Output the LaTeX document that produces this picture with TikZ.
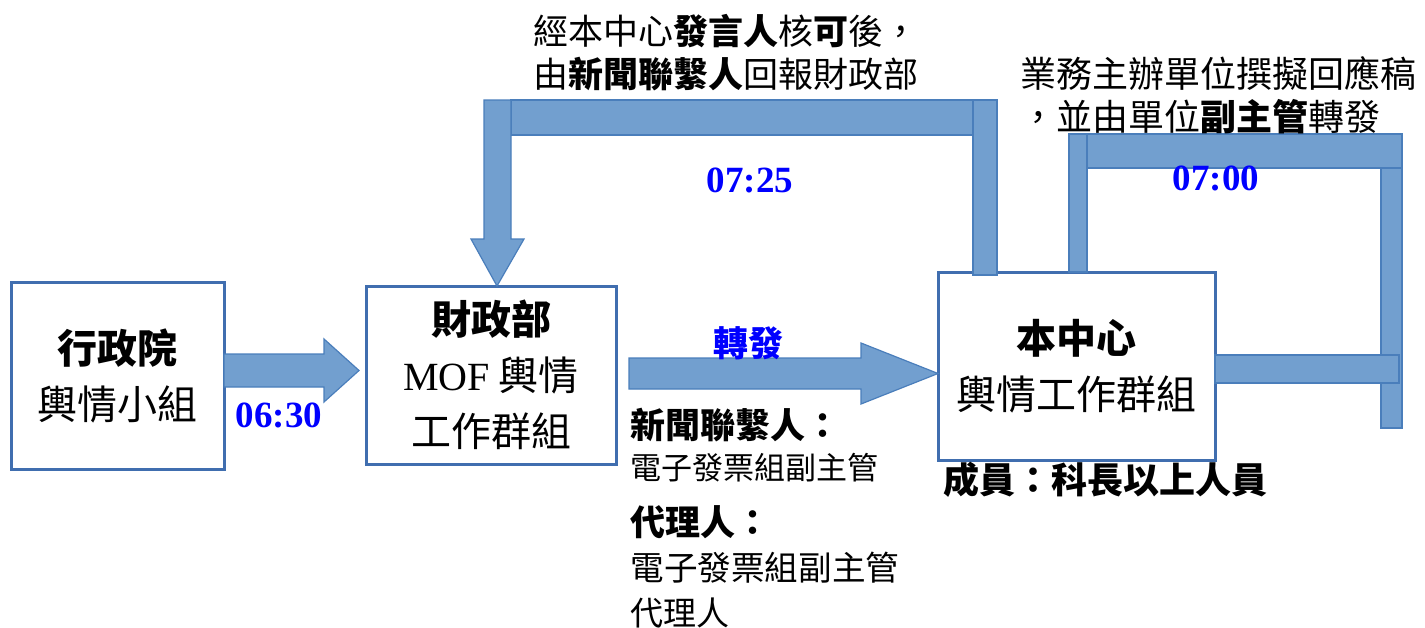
\documentclass[tikz,border=0pt]{standalone}
\usepackage{fontspec}
\setmainfont{Liberation Serif}
\newfontfamily\cjk{Noto Sans CJK TC}
\definecolor{arrowfill}{RGB}{114,159,207}
\definecolor{arrowline}{RGB}{74,126,187}
\definecolor{boxline}{RGB}{64,110,175}
\tikzset{
  unitbox/.style={draw=boxline, line width=1.5pt, fill=white, align=center,
    inner sep=0pt, font=\cjk\fontsize{20}{28}\selectfont},
  blockarrow/.style={fill=arrowfill, draw=arrowline, line width=0.6pt},
  timelabel/.style={text=blue, inner sep=0pt, font=\bfseries\fontsize{18.5}{20}\selectfont},
  note/.style={align=left, anchor=west, inner sep=0pt},
}
\begin{document}
\begin{tikzpicture}[x=0.5pt,y=-0.5pt]
    \useasboundingbox (0,0) rectangle (1425,627);

    % the three working groups
    \node[unitbox, minimum width=106.5pt, minimum height=93.5pt] (gov) at (117.5,375.5) {\textbf{行政院}\\輿情小組};
    \node[unitbox, minimum width=125pt, minimum height=89pt] (mof) at (491,375) {\textbf{財政部}\\{\rmfamily MOF} 輿情\\工作群組};
    \node[unitbox, minimum width=138.5pt, minimum height=94pt] (ctr) at (1076.5,366) {\textbf{本中心}\\輿情工作群組};

    % block arrows
    \draw[blockarrow] (224,354) -- (324,354) -- (324,339) -- (359,370.5) -- (324,402) -- (324,387) -- (224,387) -- cycle;
    \draw[blockarrow] (629,358) -- (861,358) -- (861,343) -- (938,373.5) -- (861,404) -- (861,389) -- (629,389) -- cycle;

    % reply loop back to mof
    \draw[blockarrow] (511,100) rectangle (973,135);
    \draw[blockarrow] (973,100) rectangle (997,275);
    \draw[blockarrow] (484,100) -- (511,100) -- (511,239) -- (524,239) -- (497,286) -- (471,239) -- (484,239) -- cycle;

    % loop on the right
    \draw[blockarrow] (1069,134) rectangle (1087,272);
    \draw[blockarrow] (1087,134) rectangle (1402,168);
    \draw[blockarrow] (1381,168) rectangle (1402,428);
    \draw[blockarrow] (1215,355) rectangle (1399,383);

    % times
    \node[timelabel] (t0630) at (279,415) {06:30};
    \node[timelabel] (t0725) at (750,180) {07:25};
    \node[timelabel] (t0700) at (1216,178) {07:00};
    \node[text=blue, inner sep=0pt, font=\cjk\bfseries\fontsize{17.5}{20}\selectfont] (fwd) at (748,343) {轉發};

    % notes
    \node[note, font=\cjk\fontsize{17.5}{21.5}\selectfont] (replynote) at (533,53)
        {經本中心\textbf{發言人}核\textbf{可}後，\\由\textbf{新聞聯繫人}回報財政部};
    \node[note, font=\cjk\fontsize{18}{21.5}\selectfont] (draftnote) at (1020,95)
        {業務主辦單位撰擬回應稿\\，並由單位\textbf{副主管}轉發};

    \node[note, font=\cjk\bfseries\fontsize{17.5}{20}\selectfont] (contact) at (630,425) {新聞聯繫人：};
    \node[note, font=\cjk\fontsize{15.5}{18}\selectfont] (contactwho) at (630,468) {電子發票組副主管};
    \node[note, font=\cjk\bfseries\fontsize{17.5}{20}\selectfont] (deputy) at (630,522) {代理人：};
    \node[note, font=\cjk\fontsize{16.8}{18}\selectfont] (deputywho) at (630,568) {電子發票組副主管};
    \node[note, font=\cjk\fontsize{16.5}{18}\selectfont] (deputywho2) at (630,613) {代理人};

    \node[note, font=\cjk\bfseries\fontsize{18}{20}\selectfont] (members) at (943,480) {成員：科長以上人員};

\end{tikzpicture}
\end{document}
